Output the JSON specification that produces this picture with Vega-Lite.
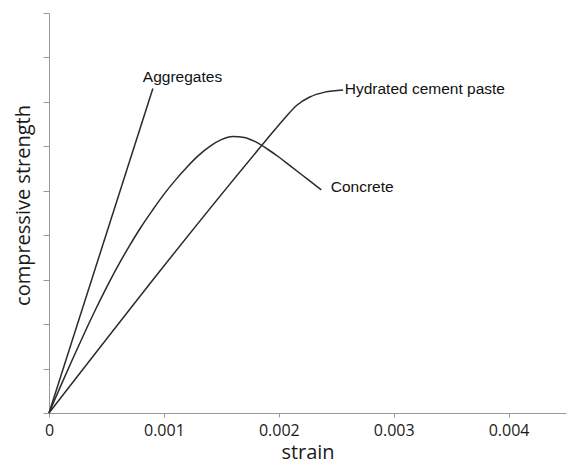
{
  "$schema": "https://vega.github.io/schema/vega-lite/v6.json",
  "width": 517,
  "height": 400,
  "autosize": {"type": "none"},
  "padding": {"left": 49, "top": 13, "right": 3, "bottom": 57},
  "background": "white",
  "config": {
    "view": {"stroke": null},
    "axis": {"grid": false, "domainColor": "#999", "tickColor": "#999", "labelFont": "Open Sans", "titleFont": "Open Sans", "labelColor": "#1a1a1a", "titleColor": "#1a1a1a", "titleFontWeight": "normal"}
  },
  "datasets": {
    "curves": [
      {"series": "Aggregates", "strain": 0, "strength": 0},
      {"series": "Aggregates", "strain": 0.000904, "strength": 7.3},
      {"series": "Hydrated cement paste", "strain": 0, "strength": 0},
      {"series": "Hydrated cement paste", "strain": 0.0019, "strength": 6.17},
      {"series": "Hydrated cement paste", "strain": 0.00204, "strength": 6.6},
      {"series": "Hydrated cement paste", "strain": 0.00216, "strength": 6.93},
      {"series": "Hydrated cement paste", "strain": 0.00227, "strength": 7.11},
      {"series": "Hydrated cement paste", "strain": 0.0024, "strength": 7.22},
      {"series": "Hydrated cement paste", "strain": 0.00256, "strength": 7.27},
      {"series": "Concrete", "strain": 0, "strength": 0},
      {"series": "Concrete", "strain": 0.0001, "strength": 0.6},
      {"series": "Concrete", "strain": 0.0002, "strength": 1.18},
      {"series": "Concrete", "strain": 0.0003, "strength": 1.75},
      {"series": "Concrete", "strain": 0.0004, "strength": 2.3},
      {"series": "Concrete", "strain": 0.0005, "strength": 2.82},
      {"series": "Concrete", "strain": 0.0006, "strength": 3.31},
      {"series": "Concrete", "strain": 0.0007, "strength": 3.76},
      {"series": "Concrete", "strain": 0.0008, "strength": 4.18},
      {"series": "Concrete", "strain": 0.0009, "strength": 4.56},
      {"series": "Concrete", "strain": 0.001, "strength": 4.92},
      {"series": "Concrete", "strain": 0.0011, "strength": 5.24},
      {"series": "Concrete", "strain": 0.0012, "strength": 5.53},
      {"series": "Concrete", "strain": 0.0013, "strength": 5.79},
      {"series": "Concrete", "strain": 0.0014, "strength": 6.0},
      {"series": "Concrete", "strain": 0.0015, "strength": 6.15},
      {"series": "Concrete", "strain": 0.0016, "strength": 6.22},
      {"series": "Concrete", "strain": 0.0017, "strength": 6.2},
      {"series": "Concrete", "strain": 0.0018, "strength": 6.1},
      {"series": "Concrete", "strain": 0.0019, "strength": 5.94},
      {"series": "Concrete", "strain": 0.002, "strength": 5.76},
      {"series": "Concrete", "strain": 0.0021, "strength": 5.56},
      {"series": "Concrete", "strain": 0.0022, "strength": 5.36},
      {"series": "Concrete", "strain": 0.0023, "strength": 5.16},
      {"series": "Concrete", "strain": 0.00237, "strength": 5.02}
    ],
    "labels": [
      {"label": "Aggregates", "strain": 0.000817, "strength": 7.56},
      {"label": "Hydrated cement paste", "strain": 0.002574, "strength": 7.29},
      {"label": "Concrete", "strain": 0.002452, "strength": 5.09}
    ]
  },
  "encoding": {
    "x": {"field": "strain", "type": "quantitative", "scale": {"domain": [0, 0.0045], "nice": false}, "axis": {"title": "strain", "values": [0, 0.001, 0.002, 0.003, 0.004], "format": ".3~f", "labelFontSize": 16, "titleFontSize": 20, "tickSize": 4, "labelPadding": 5, "titlePadding": 4, "labelFlush": false}},
    "y": {"field": "strength", "type": "quantitative", "scale": {"domain": [0, 9], "nice": false}, "axis": {"title": "compressive strength", "labels": false, "values": [0, 1, 2, 3, 4, 5, 6, 7, 8, 9], "tickSize": 6, "titleFontSize": 20, "titleX": -26, "titleY": 192, "titleAngle": -90, "titleAlign": "center", "titleBaseline": "middle"}}
  },
  "layer": [
    {
      "data": {"name": "curves"},
      "mark": {"type": "line", "interpolate": "monotone", "color": "#2a2a2a", "strokeWidth": 1.5},
      "encoding": {"detail": {"field": "series"}}
    },
    {
      "data": {"name": "labels"},
      "mark": {"type": "text", "align": "left", "baseline": "middle", "font": "Liberation Sans", "fontSize": 15.5, "color": "#111"},
      "encoding": {
        "text": {"field": "label"}
      }
    }
  ]
}
